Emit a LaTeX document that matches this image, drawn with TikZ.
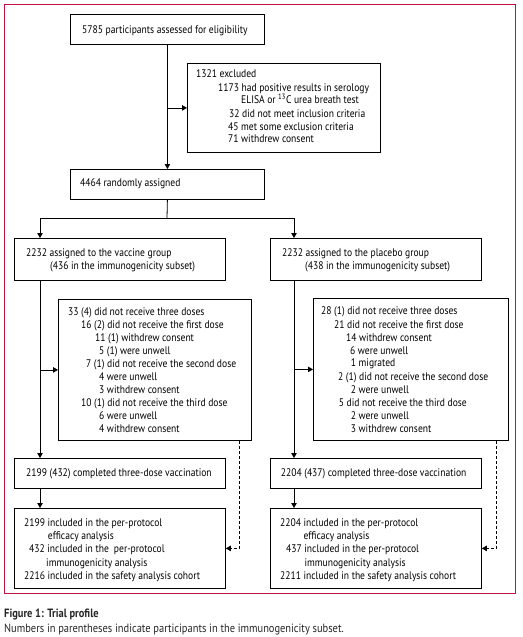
\documentclass[tikz,border=0pt]{standalone}
\usepackage{fontspec}
\setmainfont{PT Sans}[FakeStretch=0.87]
\usetikzlibrary{arrows.meta}
\definecolor{frame}{RGB}{196,18,64}
\begin{document}
\begin{tikzpicture}[x=1pt,y=-1pt,
  box/.style={draw,line width=0.8pt,rectangle,inner sep=0,anchor=north west},
  txt/.style={anchor=base west,inner sep=0,font=\fontsize{11}{12}\selectfont},
  captxt/.style={anchor=base west,inner sep=0,font=\fontsize{12}{13}\selectfont,text=black!85},
  arr/.style={line width=0.8pt,-{Triangle[length=5pt,width=5.5pt]}},
  ln/.style={line width=0.8pt},
  dsh/.style={line width=0.8pt,dash pattern=on 3pt off 2pt,-{Triangle[length=5pt,width=5.5pt]}}]
\useasboundingbox (0,0) rectangle (522,637);
\draw[frame,line width=1pt] (4.5,4.5) rectangle (515.5,593.5);
% boxes
\node[box,minimum width=194pt,minimum height=30pt] (elig) at (70,14) {};
\node[box,minimum width=193pt,minimum height=89pt] (excl) at (187,63) {};
\node[box,minimum width=194pt,minimum height=30pt] (rand) at (70,169) {};
\node[box,minimum width=211pt,minimum height=42pt] (vac) at (14,238) {};
\node[box,minimum width=211pt,minimum height=42pt] (pla) at (270,238) {};
\node[box,minimum width=193pt,minimum height=141pt] (vw) at (58,299) {};
\node[box,minimum width=195pt,minimum height=142pt] (pw) at (313,298) {};
\node[box,minimum width=211pt,minimum height=30pt] (vcomp) at (14,458) {};
\node[box,minimum width=211pt,minimum height=30pt] (pcomp) at (270,458) {};
\node[box,minimum width=211pt,minimum height=80pt] (vfin) at (14,508) {};
\node[box,minimum width=211pt,minimum height=80pt] (pfin) at (270,508) {};
% coordinates
\coordinate (split) at (167,218);
\coordinate (vx) at (40,218);
\coordinate (px) at (294,218);
\coordinate (vd) at (239,440);
\coordinate (pd) at (496,440);
% connectors
\draw[arr] (elig) -- (rand);
\draw[arr] (elig.south |- excl.west) -- (excl.west);
\draw[ln] (rand.south) -- (split);
\draw[arr] (split) -- (vx) -- (vx |- vac.north);
\draw[arr] (split) -- (px) -- (px |- pla.north);
\draw[arr] (vx |- vac.south) -- (vx |- vcomp.north);
\draw[arr] (px |- pla.south) -- (px |- pcomp.north);
\draw[arr] (vx |- vw.west) -- (vw.west);
\draw[arr] (px |- pw.west) -- (pw.west);
\draw[arr] (vx |- vcomp.south) -- (vx |- vfin.north);
\draw[arr] (px |- pcomp.south) -- (px |- pfin.north);
\draw[dsh] (vw.south -| vd) |- (vfin.east);
\draw[dsh] (pw.south -| pd) |- (pfin.east);
% texts
\node[txt] (t1) at (82,33.5) {5785 participants assessed for eligibility};
\node[txt] (t2) at (196,77.5) {1321 excluded};
\node[txt] (t3) at (218,91.5) {1173 had positive results in serology};
\node[txt] (t4) at (241,103.5) {ELISA or \textsuperscript{13}C urea breath test};
\node[txt] (t5) at (229,117.5) {32 did not meet inclusion criteria};
\node[txt] (t6) at (228,130.5) {45 met some exclusion criteria};
\node[txt] (t7) at (228,142.5) {71 withdrew consent};
\node[txt] (t8) at (80,186.5) {4464 randomly assigned};
\node[txt] (t9) at (26,256) {2232 assigned to the vaccine group};
\node[txt] (t10) at (50,269.5) {(436 in the immunogenicity subset)};
\node[txt] (t11) at (282,256) {2232 assigned to the placebo group};
\node[txt] (t12) at (305,269.5) {(438 in the immunogenicity subset)};
% vaccine withdrawals
\node[txt] (v1) at (68,315) {33 (4) did not receive three doses};
\node[txt] (v2) at (81,328) {16 (2) did not receive the first dose};
\node[txt] (v3) at (95,341) {11 (1) withdrew consent};
\node[txt] (v4) at (99,354) {5 (1) were unwell};
\node[txt] (v5) at (86,367) {7 (1) did not receive the second dose};
\node[txt] (v6) at (99,380) {4 were unwell};
\node[txt] (v7) at (99,393) {3 withdrew consent};
\node[txt] (v8) at (81,406) {10 (1) did not receive the third dose};
\node[txt] (v9) at (99,419.5) {6 were unwell};
\node[txt] (v10) at (99,432.5) {4 withdrew consent};
% placebo withdrawals
\node[txt] (p1) at (321,314) {28 (1) did not receive three doses};
\node[txt] (p2) at (334,328) {21 did not receive the first dose};
\node[txt] (p3) at (346,341) {14 withdrew consent};
\node[txt] (p4) at (350,354) {6 were unwell};
\node[txt] (p5) at (350.7,366.5) {1 migrated};
\node[txt] (p6) at (338,380) {2 (1) did not receive the second dose};
\node[txt] (p7) at (350.7,393) {2 were unwell};
\node[txt] (p8) at (338.7,406) {5 did not receive the third dose};
\node[txt] (p9) at (350.7,419.5) {2 were unwell};
\node[txt] (p10) at (350.7,432.5) {3 withdrew consent};
% completed
\node[txt] (c1) at (26,476.5) {2199 (432) completed three-dose vaccination};
\node[txt] (c2) at (280.7,476.5) {2204 (437) completed three-dose vaccination};
% final
\node[txt] (f1) at (24,526) {2199 included in the per-protocol};
\node[txt] (f2) at (47.7,539.5) {efficacy analysis};
\node[txt] (f3) at (29,552.5) {432 included in the\ \ per-protocol};
\node[txt] (f4) at (46,566) {immunogenicity analysis};
\node[txt] (f5) at (24,579.5) {2216 included in the safety analysis cohort};
\node[txt] (g1) at (280,526) {2204 included in the per-protocol};
\node[txt] (g2) at (303.3,539.5) {efficacy analysis};
\node[txt] (g3) at (286,552.5) {437 included in the per-protocol};
\node[txt] (g4) at (304.3,566) {immunogenicity analysis};
\node[txt] (g5) at (280,579.5) {2211 included in the safety analysis cohort};
% caption
\node[captxt,font=\fontsize{12}{13}\selectfont\bfseries] (cap1) at (4,617.5) {Figure 1: Trial profile};
\node[captxt] (cap2) at (4,632.5) {Numbers in parentheses indicate participants in the immunogenicity subset.};
\end{tikzpicture}
\end{document}
